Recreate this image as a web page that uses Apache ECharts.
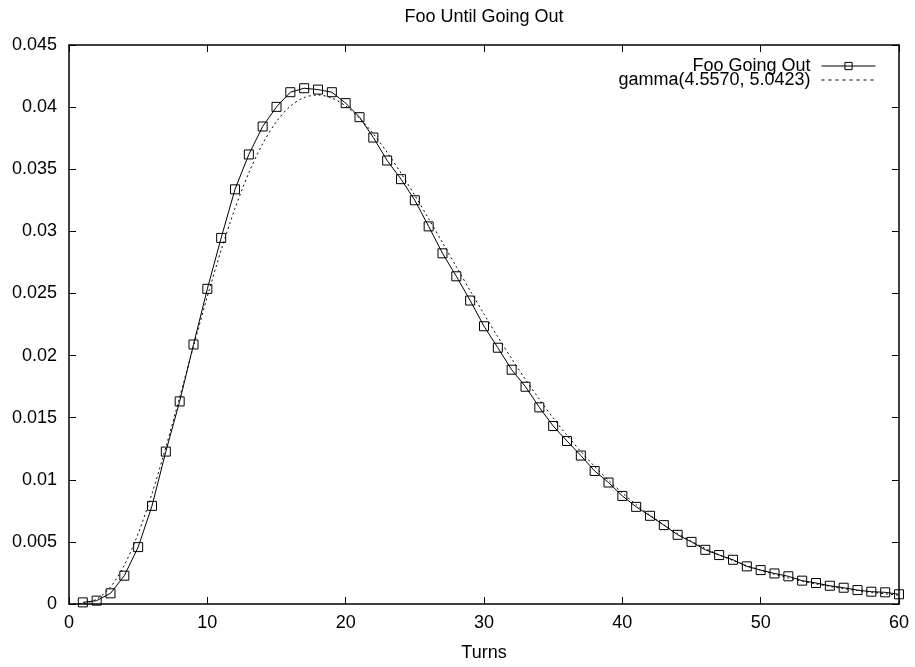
<!DOCTYPE html>
<html>
<head>
<meta charset="utf-8">
<title>Foo Until Going Out</title>
<script src="https://cdn.jsdelivr.net/npm/echarts@6/dist/echarts.min.js"></script>
<style>
  html, body { margin: 0; padding: 0; background: #fff; }
  #chart { width: 915px; height: 667px; }
</style>
</head>
<body>
<div id="chart"></div>
<script>
// Observed frequency of turns until going out (turns 1..60)
const turns = [
  1, 2, 3, 4, 5, 6, 7, 8, 9, 10,
  11, 12, 13, 14, 15, 16, 17, 18, 19, 20,
  21, 22, 23, 24, 25, 26, 27, 28, 29, 30,
  31, 32, 33, 34, 35, 36, 37, 38, 39, 40,
  41, 42, 43, 44, 45, 46, 47, 48, 49, 50,
  51, 52, 53, 54, 55, 56, 57, 58, 59, 60
];
const fooGoingOut = [
  0.00013, 0.00027, 0.00086, 0.00228, 0.00458, 0.00790, 0.01227, 0.01631, 0.02089, 0.02537,
  0.02947, 0.03338, 0.03619, 0.03844, 0.04002, 0.04120, 0.04152, 0.04141, 0.04120, 0.04032,
  0.03919, 0.03755, 0.03570, 0.03420, 0.03250, 0.03040, 0.02823, 0.02638, 0.02443, 0.02236,
  0.02063, 0.01886, 0.01749, 0.01583, 0.01433, 0.01312, 0.01195, 0.01071, 0.00978, 0.00870,
  0.00782, 0.00710, 0.00635, 0.00557, 0.00500, 0.00436, 0.00394, 0.00356, 0.00303, 0.00273,
  0.00246, 0.00223, 0.00188, 0.00169, 0.00147, 0.00131, 0.00112, 0.00099, 0.00094, 0.00078
];

// Fitted gamma(4.5570, 5.0423) density, tabulated at turns 0..60
const gammaX = [
  0, 1, 2, 3, 4, 5, 6, 7, 8, 9, 10,
  11, 12, 13, 14, 15, 16, 17, 18, 19, 20,
  21, 22, 23, 24, 25, 26, 27, 28, 29, 30,
  31, 32, 33, 34, 35, 36, 37, 38, 39, 40,
  41, 42, 43, 44, 45, 46, 47, 48, 49, 50,
  51, 52, 53, 54, 55, 56, 57, 58, 59, 60
];
const gammaFit = [
  0, 0.0000409, 0.000395, 0.001370, 0.003125, 0.005668, 0.008892, 0.012618, 0.016639, 0.020747, 0.024750,
  0.028489, 0.031839, 0.034712, 0.037054, 0.038840, 0.040073, 0.040773, 0.040977, 0.040732, 0.040090,
  0.039110, 0.037846, 0.036354, 0.034687, 0.032893, 0.031014, 0.029089, 0.027150, 0.025226, 0.023340,
  0.021509, 0.019749, 0.018069, 0.016479, 0.014982, 0.013582, 0.012279, 0.011072, 0.009959, 0.008937,
  0.008002, 0.007150, 0.006376, 0.005674, 0.005041, 0.004470, 0.003957, 0.003498, 0.003087, 0.002720,
  0.002394, 0.002104, 0.001846, 0.001618, 0.001416, 0.001238, 0.001082, 0.000944, 0.000822, 0.000716
];

const seriesNames = ['Foo Going Out', 'gamma(4.5570, 5.0423)'];

const FONT = '"Liberation Sans", Arial, Helvetica, sans-serif';
const TXT = '#000';
const FS = 18;

const axisLine = { show: true, onZero: false, lineStyle: { color: '#000', width: 1.5 } };
const axisTick = { show: true, inside: true, length: 7, lineStyle: { color: '#000', width: 1 } };

function xAxisBase(pos, showLabels) {
  return {
    type: 'value', position: pos, min: 0, max: 60, interval: 10,
    axisLine, axisTick, splitLine: { show: false },
    axisLabel: { show: showLabels, color: TXT, fontFamily: FONT, fontSize: FS, margin: 10 }
  };
}
function yAxisBase(pos, showLabels) {
  return {
    type: 'value', position: pos, min: 0, max: 0.045, interval: 0.005,
    axisLine, axisTick, splitLine: { show: false },
    axisLabel: { show: showLabels, color: TXT, fontFamily: FONT, fontSize: FS, margin: 12 }
  };
}

function legendFor(name, top, symbolStyle, dash) {
  return {
    data: [name], right: 39, top, align: 'right', orient: 'vertical',
    itemWidth: 54, itemHeight: 9, padding: 0,
    itemStyle: symbolStyle,
    lineStyle: { width: 1, type: dash },
    textStyle: { color: TXT, fontFamily: FONT, fontSize: FS, padding: [0, 6, 0, 0] }
  };
}

const chart = echarts.init(document.getElementById('chart'), null, { renderer: 'canvas' });

const xMain = xAxisBase('bottom', true);
xMain.name = 'Turns';
xMain.nameLocation = 'middle';
xMain.nameGap = 40;
xMain.nameTextStyle = { color: TXT, fontFamily: FONT, fontSize: FS };

chart.setOption({
  animation: false,
  backgroundColor: '#fff',
  textStyle: { fontFamily: FONT },
  grid: { left: 69, right: 16, top: 45, bottom: 62, containLabel: false },
  graphic: [{
    type: 'text', x: 484, y: 17,
    style: {
      text: 'Foo Until Going Out', fill: TXT, font: FS + 'px ' + FONT,
      textAlign: 'center', textVerticalAlign: 'middle'
    }
  }],
  legend: [
    legendFor(seriesNames[0], 57, { color: 'rgba(0,0,0,0)', borderColor: '#000', borderWidth: 1 }, 'solid'),
    legendFor(seriesNames[1], 71, { color: 'rgba(0,0,0,0)', borderColor: 'rgba(0,0,0,0)', borderWidth: 0 }, [3, 4])
  ],
  xAxis: [xMain, xAxisBase('top', false)],
  yAxis: [yAxisBase('left', true), yAxisBase('right', false)],
  series: [
    {
      name: seriesNames[0], type: 'line',
      data: turns.map((t, i) => [t, fooGoingOut[i]]),
      symbol: 'rect', symbolSize: 9,
      itemStyle: { color: 'rgba(0,0,0,0)', borderColor: '#000', borderWidth: 1 },
      lineStyle: { color: '#000', width: 1 },
      z: 3
    },
    {
      name: seriesNames[1], type: 'line',
      data: gammaX.map((t, i) => [t, gammaFit[i]]),
      symbol: 'none', smooth: 0.3,
      itemStyle: { color: '#000' },
      lineStyle: { color: '#000', width: 1, type: [2, 3] },
      z: 2
    }
  ]
});
</script>
</body>
</html>
